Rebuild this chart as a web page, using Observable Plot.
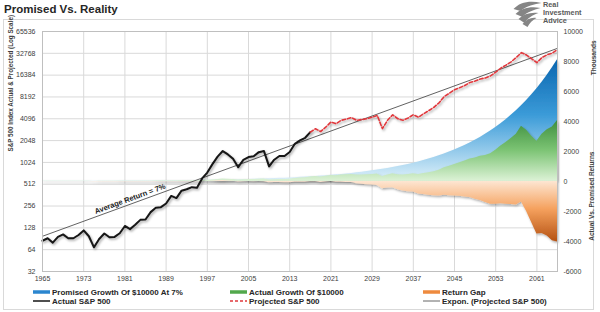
<!DOCTYPE html>
<html>
<head>
<meta charset="utf-8">
<script src="https://cdn.jsdelivr.net/npm/d3@7"></script>
<script src="https://cdn.jsdelivr.net/npm/@observablehq/plot@0.6"></script>
<style>
  body { margin: 0; background: #fff; font-family: "Liberation Sans", Arial, sans-serif; }
  #wrap { position: relative; width: 600px; height: 312px; overflow: hidden; background: #fff; }
  #box { position: absolute; left: 3px; top: 19px; width: 591px; height: 291px; border: 1px solid #d9d9d9; box-sizing: border-box; }
  #title { position: absolute; left: 4px; top: 3px; font-weight: bold; font-size: 11.5px; color: #262626; }
  #chart { position: absolute; left: 0; top: 0; }
  #logo { position: absolute; left: 510px; top: 0; }
  #brand { position: absolute; left: 543px; top: 1px; font-weight: bold; font-size: 7.3px; line-height: 8px; color: #5a5a5a; }
  .item { position: absolute; height: 10px; display: flex; align-items: center; white-space: nowrap;
          font-size: 8px; font-weight: bold; color: #262626; }
  .item svg { margin-right: 2px; }
</style>
</head>
<body>
<div id="wrap">
  <div id="box"></div>
  <div id="chart"></div>
  <div id="title">Promised Vs. Reality</div>
  <svg id="logo" width="33" height="28" viewBox="0 0 32 28">
    <g fill="#858585">
      <path d="M3 9 C9 2, 20 0, 31 3 C24 4, 16 6, 10 11 Z"/>
      <path d="M5 14 C11 8, 20 6, 30 8 C23 10, 16 12, 12 17 Z"/>
      <path d="M8 19 C13 14, 20 12, 28 13 C22 15, 17 18, 14 23 Z"/>
      <path d="M12 24 C16 19, 21 17, 26 18 C22 20, 19 23, 17 27 Z"/>
    </g>
  </svg>
  <div id="brand">Real<br>Investment<br>Advice</div>
  <div id="legend"></div>
</div>
<script>
// Years on the category axis and the axis tick values
const years = d3.range(1965, 2066);
const xTicks = [1965, 1973, 1981, 1989, 1997, 2005, 2013, 2021, 2029, 2037, 2045, 2053, 2061];
const leftTicks = [32, 64, 128, 256, 512, 1024, 2048, 4096, 8192, 16384, 32768, 65536];
const rightTicks = [-6000, -4000, -2000, 0, 2000, 4000, 6000, 8000, 10000];

// S&P 500 index level, actual (1965-2017)
const actualSP = [85, 92, 80, 96, 104, 92, 92, 102, 118, 98,
  69, 90, 107, 95, 96, 108, 136, 123, 141, 165,
  167, 211, 242, 247, 278, 353, 330, 417, 436, 466,
  459, 616, 741, 970, 1229, 1469, 1320, 1148, 880, 1112,
  1212, 1248, 1418, 1468, 903, 1115, 1258, 1258, 1426, 1848,
  2059, 2240, 2680];

// S&P 500 index level, projected (2017-2065)
const projectedSP = [2680, 2980, 2730, 3140, 3690, 3500, 3900, 4050, 4250, 3900,
  4000, 4100, 4300, 4550, 3000, 3900, 4650, 4100, 3900, 4200,
  4650, 4300, 4800, 5300, 5900, 6800, 8300, 9200, 10300, 11000,
  11800, 13000, 13600, 14500, 15000, 16000, 18000, 20500, 22500, 25000,
  28700, 33500, 31000, 27500, 24400, 28700, 31300, 33000, 37000];

// Exponential trend through the index (end points)
const trendYears = [1965, 2065];
const trendValues = [98, 38400];

// Promised growth of $10,000 at 7%, in thousands (1965-2065)
const promised = [9.3, 10, 10.7, 11.4, 12.3, 13.1, 14.0, 15.0, 16.1, 17.2,
  18.4, 19.7, 21.0, 22.5, 24.1, 25.8, 27.6, 29.5, 31.6, 33.8,
  36.2, 38.7, 41.4, 44.3, 47.4, 50.7, 54.3, 58.1, 62.1, 66.5,
  71.1, 76.1, 81.5, 87.2, 93.3, 99.8, 106.8, 114.2, 122.2, 130.8,
  139.9, 149.7, 160.2, 171.4, 183.4, 196.3, 210.0, 224.7, 240.5, 257.3,
  275.3, 294.6, 315.2, 337.3, 360.9, 386.1, 413.2, 442.1, 473.0, 506.1,
  541.6, 579.5, 620.0, 663.4, 709.9, 759.6, 812.7, 869.6, 930.5, 995.6,
  1065.3, 1139.9, 1219.7, 1305.1, 1396.4, 1494.2, 1598.8, 1710.7, 1830.4, 1958.5,
  2095.6, 2242.3, 2399.3, 2567.3, 2747.0, 2939.3, 3145.0, 3365.2, 3600.7, 3852.8,
  4122.5, 4411.0, 4719.8, 5050.2, 5403.7, 5782.0, 6186.7, 6619.8, 7083.1, 7578.9, 8109.5];

// Actual growth of $10,000, in thousands (1965-2065)
const growth = [9, 10, 9, 11, 11, 10, 10, 11, 13, 11,
  8, 10, 12, 10, 11, 12, 15, 14, 16, 18,
  18, 23, 27, 27, 31, 39, 36, 46, 48, 51,
  50, 68, 82, 107, 135, 162, 145, 126, 97, 122,
  133, 137, 156, 161, 99, 123, 138, 138, 157, 203,
  226, 246, 295, 328, 300, 345, 406, 385, 429, 446,
  468, 429, 440, 451, 473, 500, 330, 429, 512, 451,
  429, 462, 512, 473, 528, 583, 649, 748, 913, 1012,
  1133, 1255, 1365, 1495, 1570, 1680, 1740, 1855, 2090, 2370,
  2600, 2870, 3157, 3685, 3410, 3025, 2684, 3157, 3443, 3630, 4070];

// Return gap (actual minus promised), in thousands (1965-2065)
const gap = [0, 0, -2, 0, -1, -3, -4, -4, -3, -6,
  -10, -10, -9, -12, -13, -14, -13, -16, -16, -16,
  -18, -16, -14, -17, -16, -12, -18, -12, -14, -15,
  -21, -8, 0, 20, 42, 62, 38, 12, -25, -9,
  -7, -13, -4, -10, -84, -73, -72, -87, -84, -54,
  -49, -49, -20, -9, -61, -41, -7, -57, -44, -60,
  -74, -151, -180, -212, -237, -260, -483, -441, -419, -545,
  -636, -678, -708, -832, -868, -911, -950, -963, -917, -947,
  -963, -987, -1034, -1072, -1177, -1259, -1405, -1510, -1511, -1483,
  -1523, -1541, -1563, -1365, -1994, -2757, -3503, -3463, -3640, -3949, -4040];

// The right axis (thousands, -6000..10000) shares the plot height with the
// log2 left axis (32..65536); map right-axis values onto the left scale.
const toLeft = r => 32 * Math.pow(2, (r + 6000) / 16000 * 11);
const base = toLeft(0);

const rows = years.map((year, i) => ({year, promised: promised[i], growth: growth[i], gap: gap[i]}));
const actual = actualSP.map((v, i) => ({year: 1965 + i, v}));
const projected = projectedSP.map((v, i) => ({year: 2017 + i, v}));
const trend = trendYears.map((year, i) => ({year, v: trendValues[i]}));

const font = "Liberation Sans, Arial, sans-serif";

const chart = Plot.plot({
  width: 600,
  height: 285,
  marginLeft: 42,
  marginRight: 43,
  marginTop: 31,
  marginBottom: 14,
  style: {fontFamily: font, fontSize: "7px", color: "#404040", background: "transparent", overflow: "visible"},
  x: {domain: [1965, 2065], ticks: xTicks, tickFormat: d => String(d), tickSize: 0, tickPadding: 5, label: null},
  y: {type: "log", base: 2, domain: [32, 65536], ticks: leftTicks, tickFormat: d => String(d),
      tickSize: 0, tickPadding: 7, label: null},
  marks: [
    Plot.ruleX(xTicks, {stroke: "#d9d9d9", strokeWidth: 1}),
    Plot.ruleY(leftTicks, {stroke: "#d9d9d9", strokeWidth: 1}),
    Plot.areaY(rows, {x: "year", y1: () => base, y2: d => toLeft(d.promised), fill: "url(#gBlue)"}),
    Plot.areaY(rows, {x: "year", y1: () => base, y2: d => toLeft(d.growth), fill: "url(#gGreen)"}),
    Plot.areaY(rows, {x: "year", y1: () => base, y2: d => toLeft(d.gap), fill: "url(#gOrange)"}),
    Plot.line(trend, {x: "year", y: "v", stroke: "#3a3a3a", strokeWidth: 0.8}),
    Plot.line(actual, {x: "year", y: "v", stroke: "#151515", strokeWidth: 2}),
    Plot.line(projected, {x: "year", y: "v", stroke: "#e0383c", strokeWidth: 1.6, strokeDasharray: "3.5,2"}),
    Plot.text(["Average Return = 7%"], {x: () => 1982, y: () => 322, text: d => d, rotate: -20,
      fontWeight: "bold", fontSize: 7.5, fill: "#1a1a1a"}),
    Plot.text(rightTicks, {y: d => toLeft(d), frameAnchor: "right", dx: 6, textAnchor: "start",
      text: d => String(d), fill: "#404040"}),
    Plot.text(["S&P 500 Index Actual & Projected (Log Scale)"], {frameAnchor: "left", dx: -32, rotate: -90,
      text: d => d, fontWeight: "bold", fontSize: 6.3, fill: "#404040"}),
    Plot.text(["Actual Vs. Promised Returns"], {frameAnchor: "right", dx: 34, rotate: -90,
      text: d => d, fontWeight: "bold", fontSize: 6.5, fill: "#404040"}),
    Plot.text(["Thousands"], {frameAnchor: "top-right", dx: 34, dy: 9, rotate: -90,
      text: d => d, fontWeight: "bold", fontSize: 6.5, fill: "#404040"}),
    Plot.frame({stroke: "#bfbfbf"})
  ]
});

// Gradient fills and soft shadows for the series
const ns = "http://www.w3.org/2000/svg";
const defs = document.createElementNS(ns, "defs");
defs.innerHTML = `
  <linearGradient id="gBlue" gradientUnits="userSpaceOnUse" x1="0" y1="60" x2="0" y2="182">
    <stop offset="0" stop-color="#0b66b0"/><stop offset="0.45" stop-color="#3b9bd8"/>
    <stop offset="1" stop-color="#e2f3fb"/>
  </linearGradient>
  <linearGradient id="gGreen" gradientUnits="userSpaceOnUse" x1="0" y1="118" x2="0" y2="182">
    <stop offset="0" stop-color="#3a8b3b"/><stop offset="0.5" stop-color="#7cc474"/>
    <stop offset="1" stop-color="#e0f4da"/>
  </linearGradient>
  <linearGradient id="gOrange" gradientUnits="userSpaceOnUse" x1="0" y1="181" x2="0" y2="243">
    <stop offset="0" stop-color="#fde6d2"/><stop offset="0.45" stop-color="#f5a15e"/>
    <stop offset="1" stop-color="#b24e0e"/>
  </linearGradient>
  <filter id="shadow" x="-5%" y="-20%" width="110%" height="140%">
    <feDropShadow dx="1.2" dy="1.5" stdDeviation="1.1" flood-color="#000" flood-opacity="0.35"/>
  </filter>`;
chart.insertBefore(defs, chart.firstChild);
for (const sel of ['g[fill="url(#gBlue)"]', 'g[fill="url(#gGreen)"]', 'g[fill="url(#gOrange)"]',
                   'g[stroke="#151515"]', 'g[stroke="#e0383c"]']) {
  const g = chart.querySelector(sel);
  if (g) g.setAttribute("filter", "url(#shadow)");
}
document.getElementById("chart").appendChild(chart);

// Legend
const legendItems = [
  {label: "Promised Growth Of $10000 At 7%", x: 33, y: 287, kind: "bar", color: "#2b86cf"},
  {label: "Actual Growth Of $10000", x: 230, y: 287, kind: "bar", color: "#52a84c"},
  {label: "Return Gap", x: 423, y: 287, kind: "bar", color: "#ee8a3e"},
  {label: "Actual S&P 500", x: 33, y: 296, kind: "line", color: "#151515"},
  {label: "Projected S&P 500", x: 230, y: 296, kind: "dash", color: "#e0383c"},
  {label: "Expon. (Projected S&P 500)", x: 423, y: 296, kind: "thin", color: "#555"}
];
const legend = document.getElementById("legend");
for (const it of legendItems) {
  const div = document.createElement("div");
  div.className = "item";
  div.style.left = it.x + "px";
  div.style.top = it.y + "px";
  const w = it.kind === "bar" ? 3.5 : it.kind === "thin" ? 0.9 : 1.5;
  const dash = it.kind === "dash" ? ' stroke-dasharray="3,2"' : "";
  div.innerHTML = `<svg width="17" height="10"><line x1="0" x2="17" y1="5" y2="5" stroke="${it.color}" stroke-width="${w}"${dash}/></svg><span>${it.label.replace(/&/g, "&amp;")}</span>`;
  legend.appendChild(div);
}
</script>
</body>
</html>
